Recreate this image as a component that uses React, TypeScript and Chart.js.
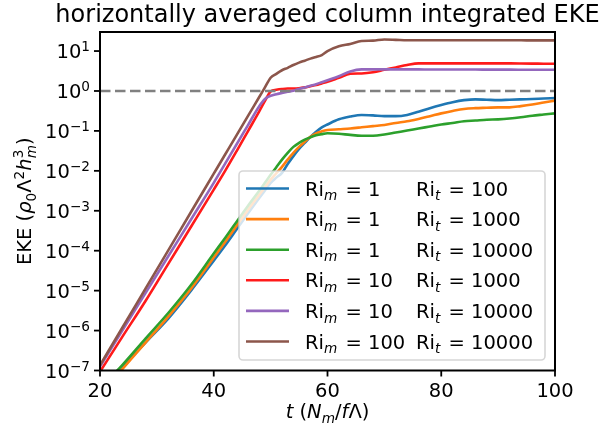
import { useEffect, useRef } from 'react';
import { Chart, registerables } from 'chart.js';

Chart.register(...registerables);

// Time in buoyancy units N_m / (f Λ)
const TIME = [
  20, 24, 28, 32, 36, 40, 42, 44, 46, 48, 49, 50, 51, 52, 53, 54, 55, 56, 57, 58, 59,
  60, 62, 64, 66, 68, 70, 72, 74, 76, 78, 80, 82, 84, 86, 88, 90, 92, 94, 96, 98, 100,
];

// Column-integrated EKE, in units of ρ0 Λ² h_m³
const EKE_M1_T100 = [
  2.0e-8, 1.17e-7, 5.01e-7, 2.0e-6, 1.0e-5, 5.62e-5, 1.35e-4, 3.39e-4, 8.51e-4, 2.09e-3, 3.24e-3,
  5.01e-3, 6.76e-3, 8.91e-3, 1.48e-2, 2.34e-2, 3.55e-2, 5.01e-2, 7.08e-2, 9.55e-2, 1.23e-1,
  1.45e-1, 1.95e-1, 2.29e-1, 2.51e-1, 2.45e-1, 2.34e-1, 2.34e-1, 2.51e-1, 3.02e-1, 3.72e-1,
  4.47e-1, 5.25e-1, 5.89e-1, 6.17e-1, 6.03e-1, 5.89e-1, 6.03e-1, 6.17e-1, 6.31e-1, 6.46e-1, 6.61e-1,
];
const EKE_M1_T1000 = [
  2.51e-8, 1.12e-7, 5.01e-7, 2.24e-6, 1.12e-5, 6.76e-5, 1.66e-4, 4.17e-4, 1.05e-3, 2.51e-3, 3.89e-3,
  6.03e-3, 8.71e-3, 1.26e-2, 1.91e-2, 2.82e-2, 3.98e-2, 5.37e-2, 7.08e-2, 8.71e-2, 9.77e-2,
  1.05e-1, 1.10e-1, 1.15e-1, 1.23e-1, 1.32e-1, 1.41e-1, 1.58e-1, 1.74e-1, 2.0e-1, 2.34e-1,
  2.75e-1, 3.16e-1, 3.55e-1, 3.72e-1, 3.80e-1, 3.89e-1, 3.89e-1, 4.17e-1, 4.57e-1, 5.13e-1, 5.75e-1,
];
const EKE_M1_T10000 = [
  3.55e-8, 1.41e-7, 6.31e-7, 2.75e-6, 1.38e-5, 8.51e-5, 2.09e-4, 5.25e-4, 1.32e-3, 3.16e-3, 5.01e-3,
  7.94e-3, 1.23e-2, 1.91e-2, 2.82e-2, 3.98e-2, 5.01e-2, 6.03e-2, 6.92e-2, 7.76e-2, 8.32e-2,
  8.71e-2, 8.51e-2, 7.94e-2, 7.59e-2, 7.59e-2, 8.13e-2, 9.12e-2, 1.02e-1, 1.15e-1, 1.29e-1,
  1.45e-1, 1.58e-1, 1.74e-1, 1.82e-1, 1.91e-1, 1.95e-1, 2.04e-1, 2.19e-1, 2.40e-1, 2.57e-1, 2.75e-1,
];
const EKE_M10_T1000 = [
  9.33e-8, 7.24e-7, 5.50e-6, 4.68e-5, 3.98e-4, 3.39e-3, 1.0e-2, 3.09e-2, 9.77e-2, 3.09e-1, 5.62e-1,
  9.77e-1, 1.07, 1.12, 1.15, 1.15, 1.17, 1.23, 1.32, 1.41, 1.55,
  1.70, 2.14, 2.69, 2.75, 2.95, 3.39, 3.89, 4.47, 4.90, 4.90,
  4.90, 4.90, 4.90, 4.90, 4.90, 4.90, 4.90, 4.88, 4.85, 4.82, 4.79,
];
const EKE_M10_T10000 = [
  1.26e-7, 1.05e-6, 8.71e-6, 7.24e-5, 6.03e-4, 5.01e-3, 1.51e-2, 4.57e-2, 1.38e-1, 4.17e-1, 6.31e-1,
  7.59e-1, 8.32e-1, 8.91e-1, 9.55e-1, 1.02, 1.12, 1.23, 1.35, 1.48, 1.66,
  1.86, 2.34, 3.09, 3.47, 3.47, 3.47, 3.47, 3.47, 3.47, 3.45,
  3.45, 3.45, 3.44, 3.44, 3.43, 3.42, 3.42, 3.41, 3.40, 3.40, 3.39,
];
const EKE_M100_T10000 = [
  1.35e-7, 1.23e-6, 1.12e-5, 1.02e-4, 9.33e-4, 8.51e-3, 2.57e-2, 7.76e-2, 2.34e-1, 7.08e-1, 1.23,
  2.14, 2.69, 3.31, 3.80, 4.47, 5.13, 5.75, 6.46, 7.08, 7.94,
  10.0, 13.2, 15.1, 17.8, 18.2, 19.5, 19.1, 18.6, 18.6, 18.6,
  18.7, 18.7, 18.6, 18.6, 18.6, 18.6, 18.6, 18.6, 18.5, 18.5, 18.5,
];

const SERIES = [EKE_M1_T100, EKE_M1_T1000, EKE_M1_T10000, EKE_M10_T1000, EKE_M10_T10000, EKE_M100_T10000];
const RI_M = [1, 1, 1, 10, 10, 100];
const RI_T = [100, 1000, 10000, 1000, 10000, 10000];
const COLORS = ['#1f77b4', '#ff7f0e', '#2ca02c', '#ff1a1a', '#9467bd', '#8c564b'];

const REFERENCE_LEVEL = 1;
const X_TICKS = [20, 40, 60, 80, 100];
const Y_TICK_EXPONENTS = [-7, -6, -5, -4, -3, -2, -1, 0, 1];
const X_MIN = 20;
const X_MAX = 100;
const Y_MIN = 1e-7;
const Y_MAX = 30;

const TITLE = 'horizontally averaged column integrated EKE';

const FAMILY = '"DejaVu Sans", "Liberation Sans", sans-serif';
const TICK_SIZE = 19.5;
const TITLE_SIZE = 24;

type Run = { t: string; it?: boolean; sc?: 'sub' | 'sup'; under?: string; gap?: number };

function fontOf(size: number, italic?: boolean) {
  return `${italic ? 'italic ' : ''}${size}px ${FAMILY}`;
}

function runWidth(ctx: CanvasRenderingContext2D, r: Run, size: number) {
  const s = r.sc ? size * 0.7 : size;
  ctx.font = fontOf(s, r.it);
  let w = ctx.measureText(r.t).width;
  if (r.under) {
    ctx.font = fontOf(s, true);
    w = Math.max(w, ctx.measureText(r.under).width);
  }
  return w + (r.gap || 0);
}

function richWidth(ctx: CanvasRenderingContext2D, runs: Run[], size: number) {
  return runs.reduce((acc, r) => acc + runWidth(ctx, r, size), 0);
}

function drawRich(
  ctx: CanvasRenderingContext2D,
  runs: Run[],
  x: number,
  baseline: number,
  size: number,
  align: 'left' | 'center' | 'right',
) {
  const total = richWidth(ctx, runs, size);
  let cx = align === 'left' ? x : align === 'center' ? x - total / 2 : x - total;
  ctx.textAlign = 'left';
  ctx.textBaseline = 'alphabetic';
  for (const r of runs) {
    const s = r.sc ? size * 0.7 : size;
    const dy = r.sc === 'sup' ? -(r.under ? 0.42 : 0.36) * size : r.sc === 'sub' ? 0.24 * size : 0;
    ctx.font = fontOf(s, r.it);
    ctx.fillText(r.t, cx, baseline + dy);
    if (r.under) {
      ctx.font = fontOf(s, true);
      ctx.fillText(r.under, cx, baseline + 0.26 * size);
    }
    cx += runWidth(ctx, r, size);
  }
}

const frame = {
  id: 'frame',
  afterDatasetsDraw(chart: Chart) {
    const { ctx, chartArea } = chart;
    const xs = chart.scales.x;
    const ys = chart.scales.y;
    const { left, right, top, bottom } = chartArea;
    ctx.save();
    ctx.fillStyle = '#000';
    ctx.strokeStyle = '#000';

    // axes box
    ctx.lineWidth = 2;
    ctx.strokeRect(left, top, right - left, bottom - top);

    // ticks and tick labels
    ctx.lineWidth = 1.8;
    for (const v of X_TICKS) {
      const px = xs.getPixelForValue(v);
      ctx.beginPath();
      ctx.moveTo(px, bottom);
      ctx.lineTo(px, bottom + 6);
      ctx.stroke();
      drawRich(ctx, [{ t: String(v) }], px, bottom + 26.5, TICK_SIZE, 'center');
    }
    for (const e of Y_TICK_EXPONENTS) {
      const py = ys.getPixelForValue(Math.pow(10, e));
      ctx.beginPath();
      ctx.moveTo(left, py);
      ctx.lineTo(left - 6, py);
      ctx.stroke();
      const exp = e < 0 ? '\u2212' + String(-e) : String(e);
      drawRich(ctx, [{ t: '10' }, { t: exp, sc: 'sup' }], left - 10, py + 7.4, TICK_SIZE, 'right');
    }

    // title
    drawRich(ctx, [{ t: TITLE }], (left + right) / 2, 22, TITLE_SIZE, 'center');

    // x label: t (N_m / fΛ)
    drawRich(
      ctx,
      [
        { t: 't', it: true },
        { t: ' (' },
        { t: 'N', it: true },
        { t: 'm', it: true, sc: 'sub' },
        { t: '/' },
        { t: 'f', it: true },
        { t: 'Λ' },
        { t: ')' },
      ],
      (left + right) / 2,
      418,
      TICK_SIZE,
      'center',
    );

    // y label: EKE (ρ0 Λ² h_m³)
    ctx.translate(31, (top + bottom) / 2);
    ctx.rotate(-Math.PI / 2);
    drawRich(
      ctx,
      [
        { t: 'EKE (' },
        { t: 'ρ', it: true },
        { t: '0', sc: 'sub' },
        { t: 'Λ' },
        { t: '2', sc: 'sup' },
        { t: 'h', it: true },
        { t: '3', sc: 'sup', under: 'm' },
        { t: ')' },
      ],
      0,
      0,
      TICK_SIZE,
      'center',
    );
    ctx.restore();
  },
  afterDraw(chart: Chart) {
    const { ctx } = chart;
    const bx = 239;
    const by = 171;
    const bw = 306;
    const bh = 189;
    const rad = 4;
    ctx.save();
    ctx.globalAlpha = 0.8;
    ctx.beginPath();
    ctx.roundRect(bx, by, bw, bh, rad);
    ctx.fillStyle = '#ffffff';
    ctx.fill();
    ctx.lineWidth = 1.6;
    ctx.strokeStyle = '#cccccc';
    ctx.stroke();
    ctx.globalAlpha = 1;

    const rowY0 = 188.5;
    const rowStep = 30.6;
    for (let i = 0; i < RI_M.length; i++) {
      const ds = chart.data.datasets[i] as any;
      const cy = rowY0 + rowStep * i;
      ctx.strokeStyle = ds.borderColor;
      ctx.lineWidth = ds.borderWidth;
      ctx.beginPath();
      ctx.moveTo(246, cy);
      ctx.lineTo(289, cy);
      ctx.stroke();
      ctx.fillStyle = '#000';
      drawRich(
        ctx,
        [{ t: 'Ri' }, { t: 'm', it: true, sc: 'sub', gap: 2 }, { t: ' = ' + RI_M[i] }],
        305,
        cy + 7,
        TICK_SIZE,
        'left',
      );
      drawRich(
        ctx,
        [{ t: 'Ri' }, { t: 't', it: true, sc: 'sub', gap: 2 }, { t: ' = ' + RI_T[i] }],
        416,
        cy + 7,
        TICK_SIZE,
        'left',
      );
    }
    ctx.restore();
  },
};

export default function App() {
  const canvasRef = useRef<HTMLCanvasElement | null>(null);

  useEffect(() => {
    const canvas = canvasRef.current;
    if (!canvas) return;

    const datasets: any[] = SERIES.map((values, i) => ({
      label: `Ri_m = ${RI_M[i]}  Ri_t = ${RI_T[i]}`,
      data: TIME.map((t, k) => ({ x: t, y: values[k] })),
      borderColor: COLORS[i],
      backgroundColor: COLORS[i],
      borderWidth: 2.6,
      pointRadius: 0,
      cubicInterpolationMode: 'monotone',
      clip: 0,
      order: SERIES.length - i,
    }));
    datasets.push({
      label: 'reference',
      data: [
        { x: X_MIN, y: REFERENCE_LEVEL },
        { x: X_MAX, y: REFERENCE_LEVEL },
      ],
      borderColor: '#808080',
      borderWidth: 2.4,
      borderDash: [10.5, 4.5],
      pointRadius: 0,
      clip: 0,
      order: 0,
    });

    const chart = new Chart(canvas, {
      type: 'line',
      data: { datasets },
      options: {
        animation: false,
        responsive: false,
        devicePixelRatio: 1,
        events: [],
        layout: { padding: { left: 100, top: 32, right: 59, bottom: 56.5 } },
        scales: {
          x: { type: 'linear', min: X_MIN, max: X_MAX, display: false },
          y: { type: 'logarithmic', min: Y_MIN, max: Y_MAX, display: false },
        },
        plugins: {
          legend: { display: false },
          tooltip: { enabled: false },
        },
      },
      plugins: [frame],
    });

    return () => chart.destroy();
  }, []);

  return (
    <div style={{ position: 'fixed', left: 0, top: 0, width: 614, height: 427, background: '#fff' }}>
      <canvas ref={canvasRef} width={614} height={427} style={{ display: 'block', width: 614, height: 427 }} />
    </div>
  );
}
